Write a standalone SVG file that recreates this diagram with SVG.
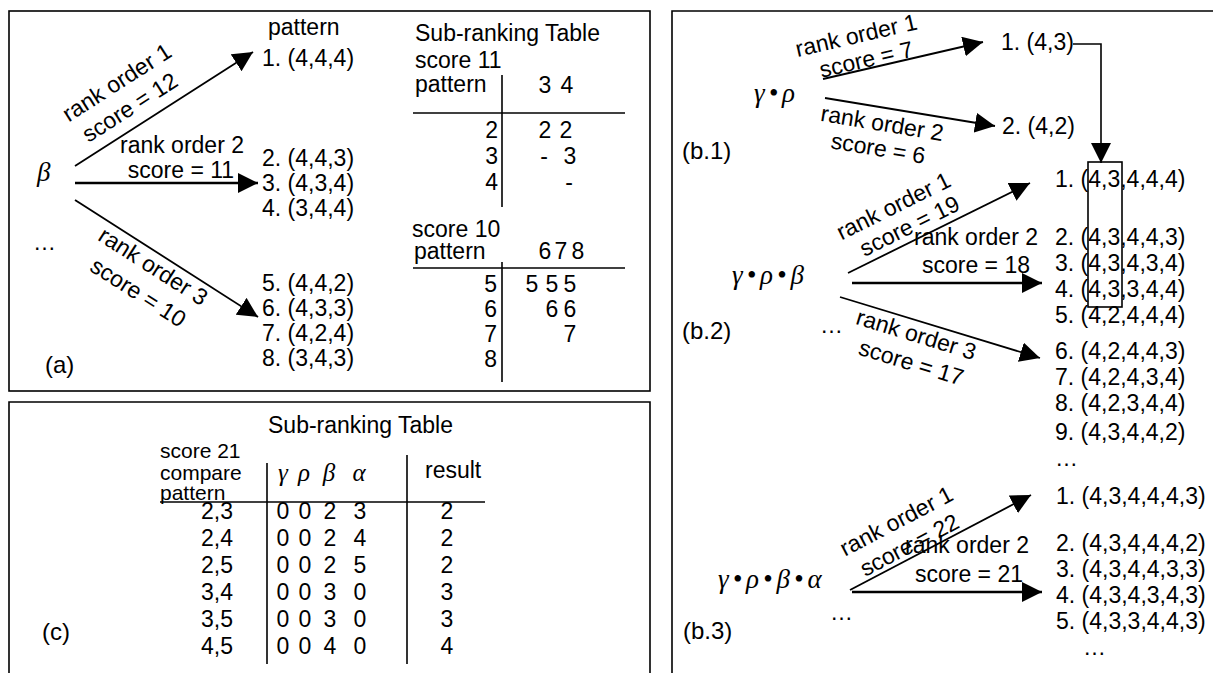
<svg xmlns="http://www.w3.org/2000/svg" width="1213" height="673" viewBox="0 0 1213 673">
  <defs>
    <style>
      text{font-family:"Liberation Sans",Arial,sans-serif;font-size:23px;fill:#000}
      .g{font-family:"Liberation Serif","Times New Roman",serif;font-style:italic;font-size:27px}
      .gs{font-family:"Liberation Serif","Times New Roman",serif;font-style:italic;font-size:25px}
      .chain{letter-spacing:4px}
      .lbl{font-size:24px}
      .sm{font-size:21px}
      .m{text-anchor:middle}
      .e{text-anchor:end}
      .frame{fill:none;stroke:#000;stroke-width:1.6}
      .rule{stroke:#000;stroke-width:1.6;fill:none}
      .arr{stroke:#000;stroke-width:1.8;fill:none;marker-end:url(#ah)}
      .arr2{stroke:#000;stroke-width:2.4;fill:none;marker-end:url(#ah)}
    </style>
    <marker id="ah" markerUnits="userSpaceOnUse" markerWidth="22" markerHeight="20" refX="20" refY="10" orient="auto" viewBox="0 0 22 20">
      <path d="M0,0 L20,10 L0,20 Z" fill="#000"/>
    </marker>
  </defs>
  <rect width="1213" height="673" fill="#fff"/>

  <!-- panel frames -->
  <g id="frames">
    <rect class="frame" x="9" y="11" width="641" height="380"/>
    <path class="frame" d="M9,680 V402 H650 V680"/>
    <path class="frame" d="M672,680 V11 H1220"/>
  </g>

  <!-- panel (a): ranking of beta -->
  <g id="beta"><text class="g" x="37" y="181">β</text></g>
  <g id="dots-a"><text x="33" y="250">…</text></g>
  <g id="list-a">
    <text x="268" y="35">pattern</text>
    <text x="262" y="66">1. (4,4,4)</text>
    <text x="262" y="166">2. (4,4,3)</text>
    <text x="262" y="191">3. (4,3,4)</text>
    <text x="262" y="216">4. (3,4,4)</text>
    <text x="262" y="291">5. (4,4,2)</text>
    <text x="262" y="316">6. (4,3,3)</text>
    <text x="262" y="341">7. (4,2,4)</text>
    <text x="262" y="366">8. (3,4,3)</text>
  </g>
  <g id="tag-a"><text class="lbl" x="45" y="373">(a)</text></g>

  <g id="subrank-a">
    <text x="415" y="41">Sub-ranking Table</text>
    <text x="415" y="68">score 11</text>
    <text x="415" y="92">pattern</text>
    <text class="m" x="545" y="93">3</text><text class="m" x="567" y="93">4</text>
    <line class="rule" x1="413" y1="113" x2="625" y2="113"/>
    <line class="rule" x1="502" y1="75" x2="502" y2="207"/>
    <text class="e" x="498" y="138">2</text>
    <text class="e" x="498" y="164">3</text>
    <text class="e" x="498" y="190">4</text>
    <text class="m" x="545" y="138">2</text><text class="m" x="566" y="138">2</text>
    <text class="m" x="544" y="164">-</text><text class="m" x="570" y="164">3</text>
    <text class="m" x="569" y="190">-</text>

    <text x="412" y="237">score 10</text>
    <text x="414" y="259">pattern</text>
    <text class="m" x="545" y="259">6</text><text class="m" x="561" y="259">7</text><text class="m" x="578" y="259">8</text>
    <line class="rule" x1="413" y1="268" x2="625" y2="268"/>
    <line class="rule" x1="502" y1="262" x2="502" y2="382"/>
    <text class="e" x="497" y="292">5</text>
    <text class="e" x="497" y="317">6</text>
    <text class="e" x="497" y="342">7</text>
    <text class="e" x="497" y="367">8</text>
    <text class="m" x="532" y="292">5</text><text class="m" x="552" y="292">5</text><text class="m" x="570" y="292">5</text>
    <text class="m" x="552" y="317">6</text><text class="m" x="570" y="317">6</text>
    <text class="m" x="570" y="342">7</text>
  </g>

  <!-- panel (c): sub-ranking table for score 21 -->
  <g id="subrank-c">
    <text x="268" y="433">Sub-ranking Table</text>
    <text class="sm" x="160" y="458">score 21</text>
    <text class="sm" x="160" y="480">compare</text>
    <text class="sm" x="160" y="500">pattern</text>
    <line class="rule" x1="160" y1="502" x2="485" y2="502"/>
    <line class="rule" x1="267" y1="463" x2="267" y2="664"/>
    <line class="rule" x1="407" y1="455" x2="407" y2="664"/>
    <text class="gs m" x="283" y="481">γ</text>
    <text class="gs m" x="304" y="481">ρ</text>
    <text class="gs m" x="329" y="481">β</text>
    <text class="gs m" x="359" y="481">α</text>
    <text x="425" y="478">result</text>

    <text class="e" x="233" y="519">2,3</text>
    <text class="e" x="233" y="546">2,4</text>
    <text class="e" x="233" y="573">2,5</text>
    <text class="e" x="233" y="600">3,4</text>
    <text class="e" x="233" y="627">3,5</text>
    <text class="e" x="233" y="654">4,5</text>

    <g class="m">
      <text class="m" x="283" y="519">0</text><text class="m" x="305" y="519">0</text><text class="m" x="330" y="519">2</text><text class="m" x="360" y="519">3</text>
      <text class="m" x="283" y="546">0</text><text class="m" x="305" y="546">0</text><text class="m" x="330" y="546">2</text><text class="m" x="360" y="546">4</text>
      <text class="m" x="283" y="573">0</text><text class="m" x="305" y="573">0</text><text class="m" x="330" y="573">2</text><text class="m" x="360" y="573">5</text>
      <text class="m" x="283" y="600">0</text><text class="m" x="305" y="600">0</text><text class="m" x="330" y="600">3</text><text class="m" x="360" y="600">0</text>
      <text class="m" x="283" y="627">0</text><text class="m" x="305" y="627">0</text><text class="m" x="330" y="627">3</text><text class="m" x="360" y="627">0</text>
      <text class="m" x="283" y="654">0</text><text class="m" x="305" y="654">0</text><text class="m" x="330" y="654">4</text><text class="m" x="360" y="654">0</text>
    </g>
    <text class="m" x="447" y="519">2</text>
    <text class="m" x="447" y="546">2</text>
    <text class="m" x="447" y="573">2</text>
    <text class="m" x="447" y="600">3</text>
    <text class="m" x="447" y="627">3</text>
    <text class="m" x="447" y="654">4</text>
  </g>
  <g id="tag-c"><text class="lbl" x="42" y="640">(c)</text></g>

  <!-- panel (b.1) -->
  <g id="gr"><text class="g chain" x="754" y="102">γ•ρ</text></g>
  <g id="tag-b1"><text class="lbl" x="682" y="159">(b.1)</text></g>
  <g id="list-b1">
    <text x="1001" y="50">1. (4,3)</text>
    <text x="1002" y="134">2. (4,2)</text>
  </g>

  <!-- panel (b.2) -->
  <g id="grb"><text class="g chain" x="732" y="284">γ•ρ•β</text></g>
  <g id="dots-b2"><text x="820" y="333">…</text></g>
  <g id="tag-b2"><text class="lbl" x="682" y="339">(b.2)</text></g>
  <g id="list-b2">
    <text x="1055" y="187">1. (4,3,4,4,4)</text>
    <text x="1055" y="245">2. (4,3,4,4,3)</text>
    <text x="1055" y="271">3. (4,3,4,3,4)</text>
    <text x="1055" y="297">4. (4,3,3,4,4)</text>
    <text x="1055" y="323">5. (4,2,4,4,4)</text>
    <text x="1055" y="359">6. (4,2,4,4,3)</text>
    <text x="1055" y="385">7. (4,2,4,3,4)</text>
    <text x="1055" y="411">8. (4,2,3,4,4)</text>
    <text x="1055" y="440">9. (4,3,4,4,2)</text>
    <text x="1055" y="466">…</text>
  </g>
  <g id="prefix-box"><rect class="rule" x="1088" y="162" width="34" height="145"/></g>

  <!-- panel (b.3) -->
  <g id="grba"><text class="g chain" x="718" y="588">γ•ρ•β•α</text></g>
  <g id="dots-b3"><text x="830" y="620">…</text></g>
  <g id="tag-b3"><text class="lbl" x="683" y="639">(b.3)</text></g>
  <g id="list-b3">
    <text x="1056" y="504">1. (4,3,4,4,4,3)</text>
    <text x="1056" y="551">2. (4,3,4,4,4,2)</text>
    <text x="1056" y="577">3. (4,3,4,4,3,3)</text>
    <text x="1056" y="603">4. (4,3,4,3,4,3)</text>
    <text x="1056" y="629">5. (4,3,3,4,4,3)</text>
    <text x="1083" y="655">…</text>
  </g>

  <!-- arrows -->
  <g id="connectors">
    <line class="arr" x1="75" y1="166" x2="253" y2="52"/>
    <line class="arr2" x1="75" y1="183" x2="258" y2="183"/>
    <line class="arr" x1="75" y1="200" x2="258" y2="317"/>

    <line class="arr" x1="823" y1="79" x2="983" y2="42"/>
    <line class="arr" x1="825" y1="98" x2="995" y2="126"/>
    <polyline class="rule" points="1073,44 1101,44 1101,163" marker-end="url(#ah)"/>

    <line class="arr" x1="848" y1="273" x2="1030" y2="183"/>
    <line class="arr2" x1="852" y1="283" x2="1042" y2="283"/>
    <line class="arr" x1="840" y1="297" x2="1040" y2="358"/>

    <line class="arr" x1="850" y1="590" x2="1031" y2="495"/>
    <line class="arr2" x1="852" y1="592" x2="1042" y2="592"/>
  </g>

  <!-- arrow labels -->
  <g id="edge-labels" class="m">
    <text class="m" transform="translate(121,89) rotate(-32.6)">rank order 1</text>
    <text class="m" transform="translate(134,114) rotate(-32.6)">score = 12</text>
    <text class="m" x="182" y="153">rank order 2</text>
    <text class="m" x="181" y="178">score = 11</text>
    <text class="m" transform="translate(149,273) rotate(32.6)">rank order 3</text>
    <text class="m" transform="translate(134,299) rotate(32.6)">score = 10</text>

    <text class="m" transform="translate(858,43) rotate(-13)">rank order 1</text>
    <text class="m" transform="translate(868,67) rotate(-13)">score = 7</text>
    <text class="m" transform="translate(881,131) rotate(9.4)">rank order 2</text>
    <text class="m" transform="translate(877,156) rotate(9.4)">score = 6</text>

    <text class="m" transform="translate(897,213) rotate(-26.3)">rank order 1</text>
    <text class="m" transform="translate(913,233) rotate(-26.3)">score = 19</text>
    <text class="m" x="976" y="245">rank order 2</text>
    <text class="m" x="976" y="273">score = 18</text>
    <text class="m" transform="translate(914,342) rotate(17)">rank order 3</text>
    <text class="m" transform="translate(909,370) rotate(17)">score = 17</text>

    <text class="m" transform="translate(900,528) rotate(-27.6)">rank order 1</text>
    <text class="m" transform="translate(913,552) rotate(-27.6)">score = 22</text>
    <text class="m" x="967" y="553">rank order 2</text>
    <text class="m" x="969" y="582">score = 21</text>
  </g>
</svg>
